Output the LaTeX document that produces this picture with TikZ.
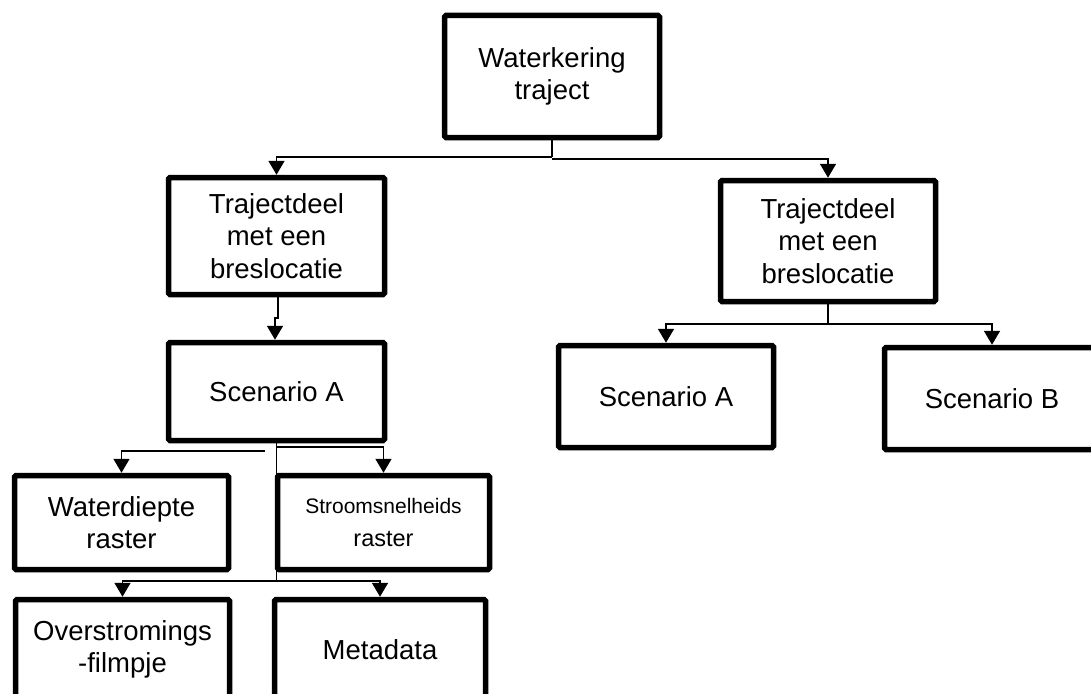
\documentclass[tikz,border=0pt]{standalone}
\usepackage{fontspec}
\setmainfont{Liberation Sans}
\usetikzlibrary{arrows.meta}
\tikzset{
  box/.style={draw, line width=5.5pt, rounded corners=1.5pt, inner sep=0pt, align=center,
    font=\fontsize{27.5}{32.5}\selectfont, fill=white},
  conn/.style={line width=1.8pt, -{Triangle[width=16pt,length=14pt]}},
  plainline/.style={line width=1.8pt}
}
\begin{document}
\begin{tikzpicture}[x=1pt,y=-1pt]
\useasboundingbox (0,0) rectangle (1091,693);
\fill[white] (0,0) rectangle (1091,693);
\clip (0,0) rectangle (1091,693);

\node[box, minimum width=215pt, minimum height=122pt] (top) at (552,76.5) {Waterkering\\traject};
\node[box, minimum width=216pt, minimum height=117pt] (LT) at (276.5,236) {Trajectdeel\\met een\\breslocatie};
\node[box, minimum width=215pt, minimum height=121pt] (RT) at (828,241) {Trajectdeel\\met een\\breslocatie};
\node[box, minimum width=216pt, minimum height=98pt] (SAL) at (276.5,391.5) {Scenario A};
\node[box, minimum width=215pt, minimum height=102pt] (SAR) at (666,396.5) {Scenario A};
\node[box, minimum width=215pt, minimum height=102pt] (SB) at (992,398.5) {Scenario B};
\node[box, minimum width=214pt, minimum height=94pt] (WD) at (121.5,522.5) {Waterdiepte\\raster};
\node[box, minimum width=212pt, minimum height=94pt] (ST) at (383.5,522.5)
  {\fontsize{21}{33}\selectfont Stroomsnelheids\\\fontsize{23.5}{33}\selectfont raster};
\node[box, minimum width=214pt, minimum height=100pt] (OV) at (122.5,649.5) {Overstromings\\-filmpje};
\node[box, minimum width=211pt, minimum height=100pt] (MD) at (380,649.5) {Metadata};

% top -> Trajectdelen
\draw[plainline] (top.south) -- ([yshift=-17pt]top.south) coordinate (j1);
\draw[conn] (j1) -| (LT.north);
\draw[conn] ([yshift=-2pt]j1) -| (RT.north);

% left Trajectdeel -> Scenario A
\draw[conn] ([xshift=1.5pt]LT.south) -- ++(0,21) -| ([xshift=-1.5pt]SAL.north);

% right Trajectdeel -> Scenario A / B
\draw[plainline] (RT.south) -- ++(0,20) coordinate (j2);
\draw[conn] (j2) -| (SAR.north);
\draw[conn] (j2) -| (SB.north);

% Scenario A -> rasters and below
\draw[plainline] (SAL.south) -- ++(0,138) coordinate (j4);
\draw[conn] ([shift={(-12,8)}]SAL.south) -| (WD.north);
\draw[conn] ([yshift=-4pt]SAL.south) -| (ST.north);
\draw[conn] (j4) -| (OV.north);
\draw[conn] (j4) -| (MD.north);
\end{tikzpicture}
\end{document}
